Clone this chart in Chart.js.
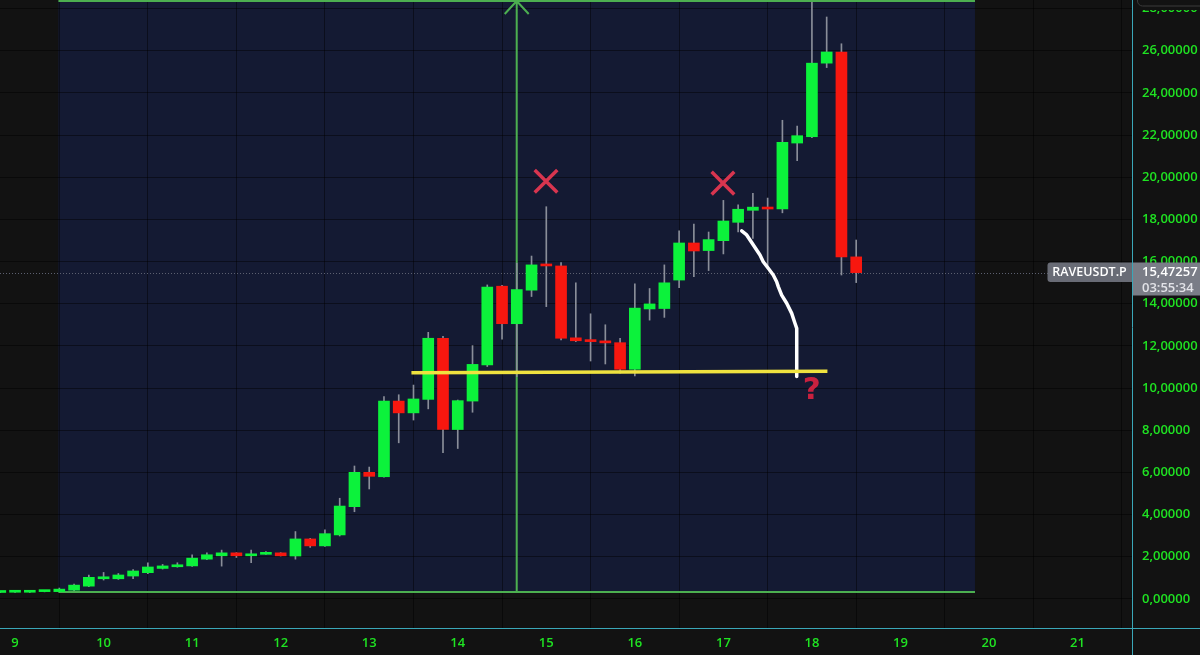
<!DOCTYPE html>
<html>
<head>
<meta charset="utf-8">
<title>RAVEUSDT.P · 4H</title>
<script src="https://cdn.jsdelivr.net/npm/chart.js@4.4.1/dist/chart.umd.min.js"></script>
<style>
  html, body { margin: 0; padding: 0; background: #121212; overflow: hidden; }
  #box { width: 1200px; height: 655px; }
</style>
</head>
<body>
<div id="box"><canvas id="chart" width="1200" height="655"></canvas></div>
<script>
// 4-hour candles. Slot 0 is day 10 00:00, six slots per day.
const symbol = 'RAVEUSDT.P';
const firstSlot = -7;
const slotsPerDay = 6;

const opens = [
  0.30, 0.31, 0.31, 0.34, 0.34, 0.41, 0.60,      // day 9, last slots
  0.95, 0.95, 1.08, 1.24, 1.44, 1.52,            // day 10
  1.56, 1.88, 2.04, 2.18, 2.04, 2.11,            // day 11
  2.18, 2.03, 2.84, 2.51, 3.03, 4.37,            // day 12
  6.00, 5.79, 9.38, 8.82, 9.46, 12.36,           // day 13
  8.03, 9.38, 11.10, 14.83, 13.05, 14.64,        // day 14
  15.84, 15.79, 12.38, 12.28, 12.23, 12.15,      // day 15
  10.89, 13.75, 13.77, 15.12, 16.88, 16.52,      // day 16
  16.99, 17.86, 18.43, 18.58, 18.50, 21.62,      // day 17
  21.92, 25.41, 25.94, 16.22                     // day 18
];
const highs = [
  0.33, 0.34, 0.34, 0.37, 0.51, 0.70, 1.13,
  1.25, 1.20, 1.39, 1.71, 1.63, 1.71,
  2.09, 2.18, 2.31, 2.19, 2.31, 2.24,
  2.19, 3.19, 2.87, 3.27, 4.77, 6.30,
  6.25, 9.59, 9.68, 10.14, 12.64, 12.45,
  9.43, 12.01, 14.89, 14.87, 15.92, 16.26,
  18.60, 15.95, 14.99, 13.52, 13.00, 12.36,
  14.94, 14.72, 15.84, 17.45, 17.78, 17.40,
  18.90, 18.69, 19.23, 19.01, 22.70, 22.43,
  28.30, 27.60, 26.33, 17.02
];
const lows = [
  0.29, 0.30, 0.30, 0.33, 0.33, 0.39, 0.58,
  0.89, 0.92, 0.95, 1.19, 1.41, 1.50,
  1.54, 1.86, 1.55, 1.96, 1.71, 2.10,
  2.03, 1.88, 2.44, 2.49, 2.98, 4.13,
  5.21, 5.77, 7.40, 8.48, 9.01, 6.93,
  7.13, 8.85, 11.02, 12.32, 10.54, 14.34,
  13.86, 12.28, 12.20, 11.28, 11.14, 10.70,
  10.57, 13.22, 13.35, 14.76, 15.28, 15.57,
  16.36, 17.41, 17.10, 15.69, 18.31, 20.79,
  21.88, 25.20, 15.36, 15.00
];
const closes = [
  0.32, 0.33, 0.33, 0.36, 0.46, 0.65, 1.02,
  0.99, 1.13, 1.32, 1.51, 1.56, 1.61,
  1.93, 2.09, 2.18, 2.04, 2.13, 2.16,
  2.04, 2.84, 2.51, 3.09, 4.40, 6.00,
  5.81, 9.38, 8.82, 9.48, 12.36, 8.03,
  9.40, 11.12, 14.79, 13.05, 14.67, 15.84,
  15.79, 12.36, 12.24, 12.20, 12.14, 10.89,
  13.79, 13.99, 14.99, 16.88, 16.50, 17.04,
  17.92, 18.48, 18.58, 18.49, 21.66, 21.97,
  25.41, 25.94, 16.22, 15.47257
];

const dayTicks = [9, 10, 11, 12, 13, 14, 15, 16, 17, 18, 19, 20, 21];
const priceTicks = [0, 2, 4, 6, 8, 10, 12, 14, 16, 18, 20, 22, 24, 26, 28];
const lastPrice = 15.47257;
const countdown = '03:55:34';

// Drawings, in slot / price coordinates
const rangeBox = { x0: -3.06, x1: 59.05, y0: 0.32, y1: 28.36 };
const supportLine = [{ x: 20.86, y: 10.72 }, { x: 49.05, y: 10.79 }];
const pathLine = [
  { x: 43.24, y: 17.45 }, { x: 43.58, y: 17.26 }, { x: 44.03, y: 16.78 },
  { x: 44.48, y: 16.31 }, { x: 44.70, y: 15.99 }, { x: 45.04, y: 15.68 },
  { x: 45.38, y: 15.36 }, { x: 45.61, y: 15.04 }, { x: 45.72, y: 14.81 },
  { x: 45.95, y: 14.41 }, { x: 46.29, y: 14.02 }, { x: 46.63, y: 13.54 },
  { x: 46.85, y: 13.07 }, { x: 46.97, y: 12.83 }, { x: 46.97, y: 10.54 }
];
const crossMarks = [{ x: 29.98, y: 19.81 }, { x: 41.97, y: 19.72 }];
const questionMark = { x: 47.98, y: 9.86, text: '?' };

// Visible window
const xMin = -7.02, xMax = 69.69;
const yMin = -1.385, yMax = 28.406;

const UP = '#0cf23b', DOWN = '#f7170f', WICK = '#8a8e99';
const AXIS_TEXT = '#1fe322', BG = '#121212', TEAL = '#3aa7b8';
const FONT = '"Open Sans", "DejaVu Sans", sans-serif';

const slots = opens.map((_, k) => firstSlot + k);
const bodyColors = opens.map((o, k) => closes[k] >= o ? UP : DOWN);
const fmt = v => v.toFixed(5).replace('.', ',');

function rr(ctx, x, y, w, h, r) {
  ctx.beginPath();
  if (ctx.roundRect) ctx.roundRect(x, y, w, h, r); else ctx.rect(x, y, w, h);
}

const drawings = {
  id: 'drawings',
  beforeDraw(chart) {
    const { ctx, scales: { x, y } } = chart;
    ctx.save();
    ctx.fillStyle = BG;
    ctx.fillRect(0, 0, chart.width, chart.height);
    const l = x.getPixelForValue(rangeBox.x0), r = x.getPixelForValue(rangeBox.x1);
    const t = y.getPixelForValue(rangeBox.y1), b = y.getPixelForValue(rangeBox.y0);
    ctx.fillStyle = '#141a33';
    ctx.fillRect(l, t, r - l, b - t);
    ctx.restore();
  },
  beforeDatasetsDraw(chart) {
    const { ctx, chartArea: a, scales: { x, y } } = chart;
    ctx.save();
    // last price dotted line
    const py = y.getPixelForValue(lastPrice);
    ctx.strokeStyle = '#5c6070';
    ctx.lineWidth = 1;
    ctx.setLineDash([1, 2]);
    ctx.beginPath();
    ctx.moveTo(a.left, Math.round(py) + 0.5);
    ctx.lineTo(a.right, Math.round(py) + 0.5);
    ctx.stroke();
    ctx.setLineDash([]);
    // price range outline with the centre arrow
    const l = x.getPixelForValue(rangeBox.x0), r = x.getPixelForValue(rangeBox.x1);
    const t = y.getPixelForValue(rangeBox.y1), b = y.getPixelForValue(rangeBox.y0);
    const cx = (l + r) / 2;
    ctx.strokeStyle = '#4caf50';
    ctx.lineWidth = 2;
    ctx.beginPath();
    ctx.moveTo(l, t); ctx.lineTo(r, t);
    ctx.moveTo(l, b); ctx.lineTo(r, b);
    ctx.moveTo(cx, t); ctx.lineTo(cx, b);
    ctx.moveTo(cx - 12, t + 13); ctx.lineTo(cx, t); ctx.lineTo(cx + 12, t + 13);
    ctx.stroke();
    ctx.restore();
  },
  afterDatasetsDraw(chart) {
    const { ctx, scales: { x, y } } = chart;
    ctx.save();
    ctx.fillStyle = '#c8213f';
    ctx.font = 'bold 31px "DejaVu Sans", sans-serif';
    ctx.textAlign = 'center';
    ctx.textBaseline = 'middle';
    ctx.fillText(questionMark.text, x.getPixelForValue(questionMark.x), y.getPixelForValue(questionMark.y));
    ctx.restore();
  },
  afterDraw(chart) {
    const { ctx, chartArea: a, scales: { y } } = chart;
    ctx.save();
    const py = Math.round(y.getPixelForValue(lastPrice));
    // symbol tag and price tag
    ctx.fillStyle = '#696c76';
    rr(ctx, 1047.5, py - 10.5, 85, 19.5, [3, 0, 0, 3]);
    ctx.fill();
    ctx.fillStyle = '#7a7d87';
    ctx.fillRect(a.right, py - 10.5, chart.width - a.right, 33);
    ctx.font = '600 12.5px ' + FONT;
    ctx.textBaseline = 'middle';
    ctx.textAlign = 'center';
    ctx.fillStyle = '#ffffff';
    ctx.fillText(symbol, 1089.5, py - 0.5);
    ctx.textAlign = 'left';
    ctx.font = '600 13px ' + FONT;
    ctx.fillText(fmt(lastPrice), a.right + 10, py - 1);
    ctx.fillStyle = '#e2e3e8';
    ctx.fillText(countdown, a.right + 10, py + 15);
    // top-right button frame
    ctx.fillStyle = BG;
    ctx.fillRect(a.right + 1, 0, chart.width - a.right, 10);
    ctx.strokeStyle = '#3a3a3a';
    ctx.lineWidth = 1;
    rr(ctx, a.right + 5.5, -12, 80, 18, 5);
    ctx.stroke();
    // axis separators
    ctx.strokeStyle = TEAL;
    ctx.beginPath();
    ctx.moveTo(a.right + 0.5, 0); ctx.lineTo(a.right + 0.5, chart.height);
    ctx.moveTo(0, a.bottom + 0.5); ctx.lineTo(chart.width, a.bottom + 0.5);
    ctx.stroke();
    ctx.restore();
  }
};

new Chart(document.getElementById('chart'), {
  type: 'bar',
  data: {
    datasets: [
      {
        type: 'line', data: supportLine, borderColor: '#efe23f', borderWidth: 3.5,
        pointRadius: 0, order: 0
      },
      {
        type: 'line', data: pathLine, borderColor: '#ffffff', borderWidth: 3.5,
        pointRadius: 0, tension: 0, borderJoinStyle: 'round', borderCapStyle: 'round', order: 0
      },
      {
        type: 'scatter', data: crossMarks, pointStyle: 'crossRot', pointRadius: 16,
        borderColor: '#d8354f', borderWidth: 3.5, order: 0
      },
      {
        data: slots.map((s, k) => ({ x: s, y: [opens[k], closes[k]] })),
        backgroundColor: bodyColors, barThickness: 11, minBarLength: 2,
        grouped: false, order: 1
      },
      {
        data: slots.map((s, k) => ({ x: s, y: [lows[k], highs[k]] })),
        backgroundColor: WICK, barThickness: 1, grouped: false, order: 2
      }
    ]
  },
  options: {
    responsive: false,
    animation: false,
    devicePixelRatio: 1,
    events: [],
    layout: { padding: 0, autoPadding: false },
    plugins: { legend: { display: false }, tooltip: { enabled: false } },
    scales: {
      x: {
        type: 'linear', min: xMin, max: xMax, offset: false,
        grid: { color: 'rgba(0,0,0,0.45)', drawTicks: false, lineWidth: 1 },
        border: { display: false },
        ticks: {
          color: AXIS_TEXT, font: { family: FONT, size: 13, weight: '600' }, padding: 7,
          autoSkip: false, maxRotation: 0,
          callback: (v, i) => String(dayTicks[i])
        },
        afterBuildTicks: s => { s.ticks = dayTicks.map(d => ({ value: (d - 10) * slotsPerDay })); },
        afterFit: s => { s.height = 27; s.paddingLeft = 0; s.paddingRight = 0; }
      },
      y: {
        type: 'linear', position: 'right', min: yMin, max: yMax,
        grid: { color: 'rgba(0,0,0,0.45)', drawTicks: false, lineWidth: 1 },
        border: { display: false },
        ticks: {
          color: AXIS_TEXT, font: { family: FONT, size: 13, weight: '600' }, padding: 10,
          autoSkip: false, callback: v => fmt(v)
        },
        afterBuildTicks: s => { s.ticks = priceTicks.map(v => ({ value: v })); },
        afterFit: s => { s.width = 68; s.paddingTop = 0; s.paddingBottom = 0; }
      }
    }
  },
  plugins: [drawings]
});
</script>
</body>
</html>
